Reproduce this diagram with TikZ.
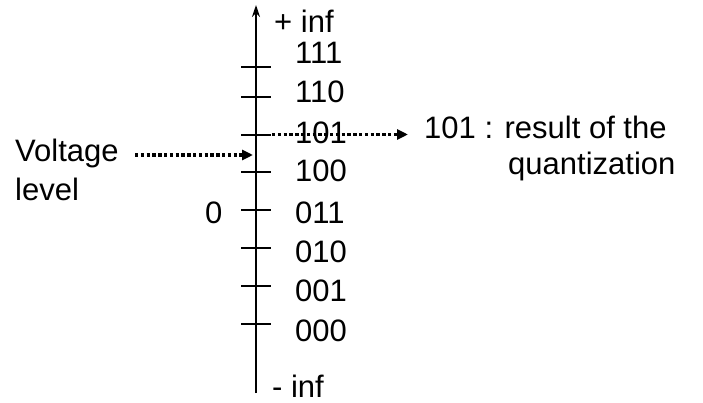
\documentclass[tikz,border=0pt]{standalone}
\usepackage{fontspec}
\setmainfont{Liberation Sans}
\usetikzlibrary{arrows.meta}
\begin{document}
\begin{tikzpicture}[x=1pt,y=-1pt,
  lbl/.style={anchor=base west,inner sep=0pt,font=\fontsize{31}{36}\selectfont},
  axisline/.style={line width=2pt},
  tickline/.style={line width=2pt},
  dotarrow/.style={line width=3.6pt,dash pattern=on 3.4pt off 2.4pt,
    -{Triangle[length=11pt,width=10pt]}}]
\useasboundingbox[fill=white] (0,0) rectangle (703,403);
% axis
\coordinate (bot) at (256,393);
\coordinate (top) at (256,5);
\draw[axisline,-{Stealth[length=12pt,width=8pt]}] (bot) -- (top);
% ticks
\foreach \i/\y in {1/66.7,2/97,3/135,4/172,5/210,6/248,7/286,8/324}{
  \coordinate (tl\i) at (241,\y);
  \coordinate (tr\i) at (271,\y);
  \draw[tickline] (tl\i) -- (tr\i);
}
% labels
\node[lbl] (pinf) at (274,33) {+ inf};
\node[lbl] (c111) at (295,64) {111};
\node[lbl] (c110) at (295,103) {110};
\node[lbl] (c101) at (295,144) {101};
\node[lbl] (c100) at (295,182) {100};
\node[lbl] (c011) at (295,223) {011};
\node[lbl] (c010) at (295,262) {010};
\node[lbl] (c001) at (295,301) {001};
\node[lbl] (c000) at (295,341) {000};
\node[lbl] (minf) at (272,397) {- inf};
\node[lbl] (zero) at (205,223) {0};
\node[lbl] (volt) at (15,162) {Voltage};
\node[lbl] (lev) at (15,201) {level};
\node[lbl] (res) at (424,139) {101 : result of the};
\node[lbl] (quant) at (508,175) {quantization};
% dotted arrows
\coordinate (vs) at (135,155);
\coordinate (ve) at (253,155);
\coordinate (rs) at (272,134.5);
\coordinate (re) at (408,134.5);
\draw[dotarrow] (vs) -- (ve);
\draw[dotarrow] (rs) -- (re);
\end{tikzpicture}
\end{document}
